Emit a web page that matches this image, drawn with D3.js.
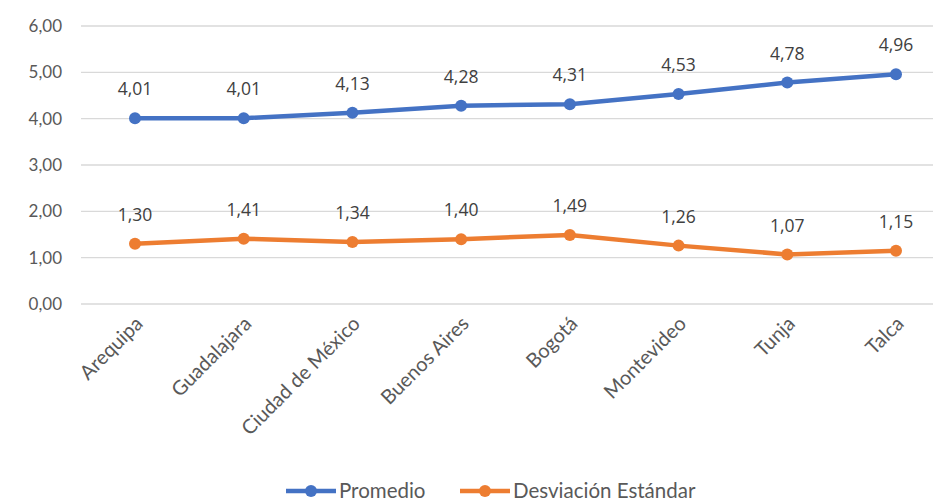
<!DOCTYPE html>
<html>
<head>
<meta charset="utf-8">
<script src="https://cdn.jsdelivr.net/npm/d3@7/dist/d3.min.js"></script>
<style>
  body { margin: 0; background: #fff; }
  svg { display: block; }
</style>
</head>
<body>
<svg id="chart" width="945" height="503"></svg>
<script>
// data
const cities = ["Arequipa", "Guadalajara", "Ciudad de México", "Buenos Aires", "Bogotá", "Montevideo", "Tunja", "Talca"];
const promedio = [4.01, 4.01, 4.13, 4.28, 4.31, 4.53, 4.78, 4.96];
const desviacion = [1.30, 1.41, 1.34, 1.40, 1.49, 1.26, 1.07, 1.15];
const yTicks = [0, 1, 2, 3, 4, 5, 6];

const series = [
  { name: "Promedio", values: promedio, color: "#4472C4" },
  { name: "Desviación Estándar", values: desviacion, color: "#ED7D31" }
];

const W = 945, H = 503;
const margin = { top: 26, right: 12, bottom: 199, left: 81 };
const fmt = (v) => v.toFixed(2).replace(".", ",");
const axisFont = "Lato, 'Open Sans', sans-serif";
const labelFont = "'Open Sans', 'Noto Sans', sans-serif";

const svg = d3.select("#chart");

// categories sit a bit left of centre in the original, so pad the ends unevenly
const x = d3.scalePoint()
  .domain(cities)
  .range([margin.left + 54, W - margin.right - 37]);

const y = d3.scaleLinear()
  .domain([0, 6])
  .range([H - margin.bottom, margin.top]);

// gridlines
svg.append("g")
  .selectAll("line")
  .data(yTicks)
  .join("line")
  .attr("x1", margin.left)
  .attr("x2", W - margin.right)
  .attr("y1", (d) => y(d))
  .attr("y2", (d) => y(d))
  .attr("stroke", "#d9d9d9")
  .attr("stroke-width", 1.3);

// y axis labels
svg.append("g")
  .selectAll("text")
  .data(yTicks)
  .join("text")
  .attr("x", 62)
  .attr("y", (d) => y(d))
  .attr("dy", "0.35em")
  .attr("text-anchor", "end")
  .style("font-family", axisFont)
  .style("font-size", "17px")
  .style("fill", "#595959")
  .text(fmt);

// x axis labels
svg.append("g")
  .selectAll("text")
  .data(cities)
  .join("text")
  .attr("transform", (d) => `translate(${x(d) + 4},${y(0) + 16}) rotate(-45)`)
  .attr("text-anchor", "end")
  .attr("dy", "0.35em")
  .style("font-family", axisFont)
  .style("font-size", "20px")
  .style("fill", "#595959")
  .text((d) => d);

const line = d3.line()
  .x((d, i) => x(cities[i]))
  .y((d) => y(d));

series.forEach((s) => {
  const g = svg.append("g");
  g.append("path")
    .datum(s.values)
    .attr("d", line)
    .attr("fill", "none")
    .attr("stroke", s.color)
    .attr("stroke-width", 4.5)
    .attr("stroke-linejoin", "round")
    .attr("stroke-linecap", "round");

  g.selectAll("circle")
    .data(s.values)
    .join("circle")
    .attr("cx", (d, i) => x(cities[i]))
    .attr("cy", (d) => y(d))
    .attr("r", 6)
    .attr("fill", s.color);

  g.selectAll("text")
    .data(s.values)
    .join("text")
    .attr("x", (d, i) => x(cities[i]))
    .attr("y", (d) => y(d) - 29)
    .attr("dy", "0.35em")
    .attr("text-anchor", "middle")
    .style("font-family", labelFont)
    .style("font-size", "17.5px")
    .style("fill", "#404040")
    .text(fmt);
});

// legend
const legendX = [286, 460];
const legend = svg.append("g");
series.forEach((s, i) => {
  const lg = legend.append("g").attr("transform", `translate(${legendX[i]},491)`);
  lg.append("line")
    .attr("x1", 0).attr("x2", 50)
    .attr("stroke", s.color)
    .attr("stroke-width", 4.5);
  lg.append("circle").attr("cx", 25).attr("r", 6).attr("fill", s.color);
  lg.append("text")
    .attr("x", 53)
    .attr("dy", "0.35em")
    .style("font-family", axisFont)
    .style("font-size", "20.5px")
    .style("fill", "#595959")
    .text(s.name);
});
</script>
</body>
</html>
